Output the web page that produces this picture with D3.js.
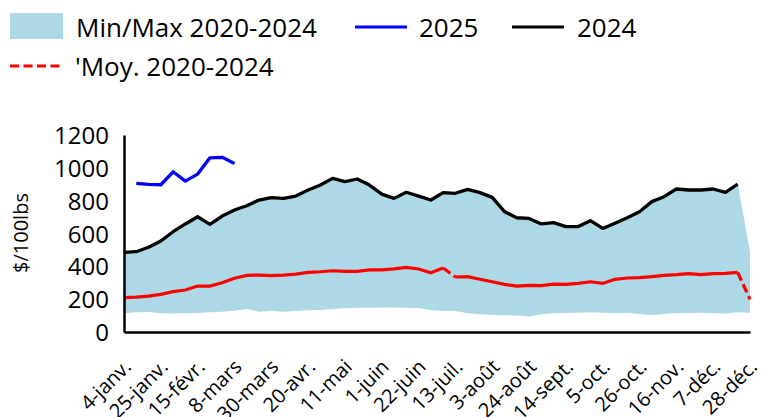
<!DOCTYPE html>
<html>
<head>
<meta charset="utf-8">
<script src="https://cdn.jsdelivr.net/npm/d3@7"></script>
<style>
  html, body { margin: 0; padding: 0; background: #fff; }
  svg { display: block; }
  text { font-family: "Open Sans", "Noto Sans", sans-serif; fill: #000; }
</style>
</head>
<body>
<svg id="chart" width="762" height="417"></svg>
<script>
// ---- data ----
const categories = [
  "4-janv.","11-janv.","18-janv.","25-janv.","1-févr.","8-févr.","15-févr.","22-févr.",
  "1-mars","8-mars","15-mars","22-mars","30-mars","6-avr.","13-avr.","20-avr.","27-avr.",
  "4-mai","11-mai","18-mai","25-mai","1-juin","8-juin","15-juin","22-juin","29-juin",
  "6-juil.","13-juil.","20-juil.","27-juil.","3-août","10-août","17-août","24-août","31-août",
  "7-sept.","14-sept.","21-sept.","28-sept.","5-oct.","12-oct.","19-oct.","26-oct.",
  "2-nov.","9-nov.","16-nov.","23-nov.","30-nov.","7-déc.","14-déc.","21-déc.","28-déc."
];
const tickLabels = ["4-janv.","25-janv.","15-févr.","8-mars","30-mars","20-avr.","11-mai",
  "1-juin","22-juin","13-juil.","3-août","24-août","14-sept.","5-oct.","26-oct.",
  "16-nov.","7-déc.","28-déc."];
const yTicks = [0, 200, 400, 600, 800, 1000, 1200];

const rangeMin = [114,120,122,114,112,114,116,120,124,130,140,124,128,
  124,128,132,134,140,144,148,148,150,150,148,146,134,
  128,128,114,108,104,102,100,95,108,114,116,118,120,
  118,114,118,110,104,110,114,116,118,114,112,120,118];
const rangeMax = [485,489,516,554,611,658,702,656,706,743,769,804,818,
  814,828,865,895,936,916,932,895,840,814,851,828,804,
  849,845,869,849,820,733,696,692,658,666,642,642,678,
  631,662,696,733,794,824,871,865,865,871,851,901,490];
const values2024 = [485,489,516,554,611,658,702,656,706,743,769,804,818,
  814,828,865,895,936,916,932,895,840,814,851,828,804,
  849,845,869,849,820,733,696,692,658,666,642,642,678,
  631,662,696,733,794,824,871,865,865,871,851,901,null];
const values2025 = [null,905,899,897,976,919,962,1061,1064,1027];
const avg2020_2024 = [209,213,219,229,246,256,280,280,300,327,345,347,343,
  347,353,363,367,373,369,369,378,378,384,394,384,361,
  390,335,337,321,306,290,280,284,282,292,290,296,306,
  296,321,329,331,337,345,349,355,349,355,357,363,199];

const legendLabels = {range: "Min/Max 2020-2024", y2025: "2025", y2024: "2024", avg: "'Moy. 2020-2024"};
const yTitle = "$/100lbs";

// ---- chart ----
const svg = d3.select("#chart");
const x = d3.scalePoint().domain(categories).range([124, 750]);
const y = d3.scaleLinear().domain([0, 1200]).range([332, 135]);

const C_RANGE = "#ADD8E6", C_2025 = "#0000FF", C_2024 = "#000000", C_AVG = "#FF0000";

// area
const area = d3.area()
  .x((d, i) => x(categories[i]))
  .y0((d, i) => y(rangeMin[i]))
  .y1((d, i) => y(rangeMax[i]));
svg.append("path").datum(categories).attr("d", area).attr("fill", C_RANGE);

// average line drawn by segments; steep jumps rendered dashed
const avgPts = avg2020_2024.map((v, i) => [x(categories[i]), y(v)]);
const lineGen = d3.line();
let run = [avgPts[0]];
const runs = [];
for (let i = 1; i < avgPts.length; i++) {
  const steep = Math.abs(avg2020_2024[i] - avg2020_2024[i - 1]) > 40;
  if (steep) {
    if (run.length > 1) runs.push({pts: run, dash: false});
    runs.push({pts: [avgPts[i - 1], avgPts[i]], dash: true});
    run = [avgPts[i]];
  } else {
    run.push(avgPts[i]);
  }
}
if (run.length > 1) runs.push({pts: run, dash: false});
runs.forEach(r => {
  svg.append("path").attr("d", lineGen(r.pts)).attr("fill", "none")
    .attr("stroke", C_AVG).attr("stroke-width", 3.2)
    .attr("stroke-dasharray", r.dash ? "9,4" : null);
});

function drawLine(vals, color) {
  const gen = d3.line()
    .defined(d => d != null)
    .x((d, i) => x(categories[i]))
    .y(d => y(d));
  svg.append("path").datum(vals).attr("d", gen)
    .attr("fill", "none").attr("stroke", color).attr("stroke-width", 3.3)
    .attr("stroke-linejoin", "round");
}
drawLine(values2024, C_2024);
drawLine(values2025, C_2025);

// axes
const yAxis = d3.axisLeft(y).tickValues(yTicks).tickFormat(d3.format("d")).tickSize(0).tickPadding(15);
const gy = svg.append("g").attr("transform", "translate(124,0)").call(yAxis);
gy.select(".domain").attr("stroke", "#000").attr("stroke-width", 2.5);
gy.selectAll("text").style("font-size", "24px").attr("font-family", null).attr("dy", "0.36em");

const xAxis = d3.axisBottom(x).tickValues(tickLabels).tickSize(0).tickPadding(0);
const gx = svg.append("g").attr("transform", "translate(0,332)").call(xAxis);
gx.select(".domain").attr("stroke", "#000").attr("stroke-width", 2.5);
gx.selectAll("text")
  .style("font-size", "20px").attr("font-family", null)
  .attr("text-anchor", "end").attr("y", 0).attr("dy", 0)
  .attr("transform", "translate(8,36) rotate(-45)");

// y title
svg.append("text").attr("transform", "translate(28,233) rotate(-90)")
  .attr("text-anchor", "middle").style("font-size", "20px").text(yTitle);

// legend
const lg = svg.append("g");
lg.append("rect").attr("x", 10).attr("y", 13).attr("width", 53).attr("height", 26).attr("fill", C_RANGE);
lg.append("text").attr("x", 76).attr("y", 37).style("font-size", "26px").text(legendLabels.range);
lg.append("line").attr("x1", 355).attr("x2", 407).attr("y1", 27).attr("y2", 27).attr("stroke", C_2025).attr("stroke-width", 3.2);
lg.append("text").attr("x", 419).attr("y", 37).style("font-size", "26px").text(legendLabels.y2025);
lg.append("line").attr("x1", 512).attr("x2", 564).attr("y1", 27).attr("y2", 27).attr("stroke", C_2024).attr("stroke-width", 3.2);
lg.append("text").attr("x", 577).attr("y", 37).style("font-size", "26px").text(legendLabels.y2024);
lg.append("line").attr("x1", 10).attr("x2", 63).attr("y1", 66).attr("y2", 66).attr("stroke", C_AVG).attr("stroke-width", 3.2).attr("stroke-dasharray", "9,4.5");
lg.append("text").attr("x", 75).attr("y", 76).style("font-size", "26px").text(legendLabels.avg);
</script>
</body>
</html>
